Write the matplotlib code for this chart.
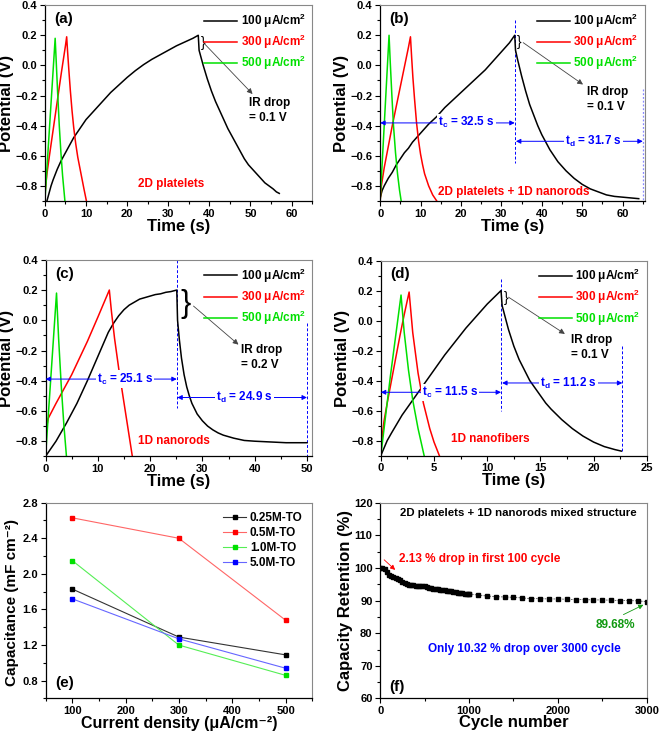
import matplotlib
matplotlib.use("Agg")
import matplotlib.pyplot as plt
from matplotlib.ticker import MultipleLocator

plt.rcParams['font.family'] = ['Liberation Sans', 'DejaVu Sans']
plt.rcParams['font.weight'] = 'bold'
plt.rcParams['axes.labelweight'] = 'bold'
plt.rcParams['mathtext.fontset'] = 'custom'
plt.rcParams['mathtext.rm'] = 'Liberation Sans:bold'
plt.rcParams['mathtext.it'] = 'Liberation Sans:bold'
plt.rcParams['mathtext.bf'] = 'Liberation Sans:bold'

BLACK, RED, GREEN, BLUE = 'black', '#ff0000', '#00e000', '#0000ff'
currents = ['100 μA/cm$^2$', '300 μA/cm$^2$', '500 μA/cm$^2$']

# ---- (a) 2D platelets ----
a_100_t = [0.5, 1, 1.5, 2, 3, 4, 5, 6, 7, 8, 9, 10, 12, 14, 16, 18, 20, 22, 24, 26, 28, 30,
           32, 34, 36, 37.3,
           37.5, 38.5, 39.5, 40.5, 41.5, 42.5, 43.5, 44.5, 45.5, 46.5, 47.5, 48.5, 49.5, 50.5,
           51.5, 52.5, 53.5, 54.5, 55.5, 56.3, 57]
a_100_v = [-0.9, -0.85, -0.8, -0.76, -0.69, -0.63, -0.58, -0.53, -0.48, -0.44, -0.4, -0.36,
           -0.3, -0.24, -0.18, -0.13, -0.08, -0.035, 0.005, 0.04, 0.07, 0.1, 0.13, 0.155, 0.18, 0.2,
           0.1, 0.0, -0.09, -0.17, -0.24, -0.3, -0.36, -0.42, -0.47, -0.52, -0.57, -0.62, -0.66,
           -0.69, -0.72, -0.75, -0.78, -0.8, -0.82, -0.84, -0.85]
a_300_t = [0, 0.5, 1, 2, 3, 4, 5, 5.3, 5.5, 5.8, 6.2, 6.6, 7.0, 7.5, 8.0, 8.5, 9.0, 9.5, 10.1]
a_300_v = [-0.86, -0.72, -0.62, -0.43, -0.24, -0.05, 0.13, 0.19, 0.1, -0.02, -0.17, -0.3,
           -0.41, -0.52, -0.61, -0.68, -0.75, -0.82, -0.9]
a_500_t = [0, 1.2, 2.5, 2.8, 3.1, 3.5, 3.9, 4.3, 4.87]
a_500_v = [-0.9, -0.38, 0.18, 0.0, -0.18, -0.4, -0.58, -0.73, -0.9]

# ---- (b) 2D platelets + 1D nanorods ----
b_100_t = [0, 0.5, 1, 2, 3, 4, 5, 6, 7, 8, 9, 10, 12, 14, 16, 18, 20, 22, 24, 26, 28, 30, 32, 33.3,
           33.5, 34, 35, 36, 37, 38, 39, 40, 41, 42, 43, 44, 45, 46, 48, 50, 52, 54, 56, 58, 60,
           62, 64]
b_100_v = [-0.88, -0.83, -0.8, -0.75, -0.71, -0.66, -0.62, -0.58, -0.55, -0.51, -0.48, -0.45,
           -0.39, -0.34, -0.28, -0.23, -0.18, -0.13, -0.08, -0.03, 0.03, 0.09, 0.15, 0.2,
           0.1, 0.04, -0.07, -0.17, -0.26, -0.33, -0.4, -0.46, -0.51, -0.56, -0.6, -0.64, -0.67,
           -0.7, -0.75, -0.79, -0.82, -0.84, -0.86, -0.87, -0.875, -0.88, -0.885]
b_300_t = [0, 0.3, 1, 2, 3, 4, 5, 6, 7, 7.5, 7.8, 8.1, 8.5, 9.0, 9.5, 10, 10.5, 11, 11.5, 12,
           12.5, 13, 14]
b_300_v = [-0.9, -0.8, -0.68, -0.54, -0.4, -0.27, -0.14, -0.01, 0.12, 0.19, 0.05, -0.08, -0.22,
           -0.38, -0.5, -0.59, -0.66, -0.72, -0.76, -0.8, -0.83, -0.86, -0.9]
b_500_t = [0, 1.1, 2.2, 2.5, 2.9, 3.3, 3.8, 4.3, 4.8, 5.2]
b_500_v = [-0.9, -0.35, 0.2, 0.02, -0.2, -0.4, -0.58, -0.72, -0.83, -0.9]

# ---- (c) 1D nanorods ----
c_100_t = [0, 1, 2, 3, 4, 5, 6, 7, 8, 9, 10, 11, 12, 13, 14, 15, 16, 17, 18, 19, 20, 21, 22,
           23, 24, 25.1,
           25.25, 25.6, 26, 26.5, 27, 27.5, 28, 29, 30, 31, 32, 33, 34, 36, 38, 40, 43, 46, 50]
c_100_v = [-0.9, -0.85, -0.8, -0.74, -0.68, -0.615, -0.55, -0.475, -0.4, -0.32, -0.24, -0.16,
           -0.08, -0.02, 0.03, 0.07, 0.1, 0.12, 0.14, 0.15, 0.16, 0.17, 0.175, 0.185, 0.19, 0.2,
           0.0, -0.13, -0.25, -0.36, -0.44, -0.5, -0.55, -0.62, -0.665, -0.7, -0.725, -0.745,
           -0.76, -0.78, -0.795, -0.8, -0.805, -0.81, -0.81]
c_300_t = [0, 0.5, 2, 5, 8, 10, 12.2, 12.6, 13.2, 14, 14.8, 15.7, 16.6]
c_300_v = [-0.75, -0.65, -0.55, -0.36, -0.14, 0.02, 0.2, 0.06, -0.12, -0.32, -0.5, -0.7, -0.9]
c_500_t = [0, 1.05, 2.1, 2.5, 3.0, 3.5, 4.0]
c_500_v = [-0.9, -0.36, 0.18, -0.12, -0.43, -0.69, -0.9]

# ---- (d) 1D nanofibers ----
d_100_t = [0, 0.3, 0.6, 1, 1.5, 2, 2.5, 3, 3.5, 4, 5, 6, 7, 8, 9, 10, 11.3,
           11.4, 11.7, 12, 12.5, 13, 13.5, 14, 14.5, 15, 15.5, 16, 17, 18, 19, 20, 21, 22, 22.6]
d_100_v = [-0.9, -0.85, -0.8, -0.75, -0.69, -0.63, -0.58, -0.53, -0.48, -0.43, -0.33, -0.23,
           -0.14, -0.05, 0.03, 0.11, 0.2,
           0.1, 0.02, -0.06, -0.17, -0.26, -0.33, -0.4, -0.45, -0.5, -0.55, -0.59, -0.66, -0.72,
           -0.77, -0.81, -0.84, -0.86, -0.87]
d_300_t = [0, 0.3, 0.6, 1, 1.4, 1.8, 2.2, 2.66, 3.0, 3.5, 4.0, 4.6, 5.0, 5.5]
d_300_v = [-0.85, -0.67, -0.55, -0.4, -0.25, -0.1, 0.04, 0.19, -0.08, -0.35, -0.55, -0.72,
           -0.81, -0.9]
d_500_t = [0, 0.9, 1.9, 2.2, 2.6, 3.0, 3.5, 4.07]
d_500_v = [-0.9, -0.37, 0.17, -0.08, -0.33, -0.53, -0.72, -0.9]

# ---- (e) capacitance vs current density ----
current_density = [100, 300, 500]
cap_025 = [1.83, 1.29, 1.09]
cap_05 = [2.63, 2.40, 1.48]
cap_10 = [2.15, 1.20, 0.86]
cap_50 = [1.72, 1.27, 0.94]

# ---- (f) cycling ----
cycles_dense = [0, 25, 50, 75, 100, 125, 150, 175, 200, 225, 250, 275, 300, 325, 350, 375, 400,
                425, 450, 475, 500, 525, 550, 575, 600, 625, 650, 675, 700, 725, 750, 775, 800,
                825, 850, 875, 900, 925, 950, 975, 1000]
retention_dense = [100.0, 100.1, 99.6, 98.9, 97.9, 97.6, 97.3, 97.0, 96.6, 96.2, 95.8, 95.4, 95.1,
                   94.9, 94.8, 94.7, 94.6, 94.5, 94.5, 94.4, 94.4, 94.2, 94.0, 93.8, 93.6, 93.5,
                   93.4, 93.3, 93.2, 93.1, 93.0, 92.9, 92.8, 92.7, 92.5, 92.4, 92.3, 92.2, 92.1,
                   92.05, 92.0]
cycles_sparse = [1000, 1100, 1200, 1300, 1400, 1500, 1600, 1700, 1800, 1900, 2000, 2100, 2200,
                 2300, 2400, 2500, 2600, 2700, 2800, 2900, 3000]
retention_sparse = [92.0, 91.7, 91.4, 91.2, 91.1, 91.0, 90.8, 90.6, 90.6, 90.5, 90.5, 90.4, 90.3,
                    90.3, 90.2, 90.2, 90.1, 90.0, 90.0, 89.9, 89.68]

TICK = 8
LAB = 12


def style_axes(ax):
    for s in ['left', 'bottom']:
        ax.spines[s].set_color('black')
        ax.spines[s].set_linewidth(0.9)
    for s in ['top', 'right']:
        ax.spines[s].set_color('#888888')
        ax.spines[s].set_linewidth(0.8)
    ax.tick_params(which='both', direction='out', top=False, right=False,
                   labelsize=TICK, width=0.8, pad=2)
    ax.tick_params(which='major', length=3.5)
    ax.tick_params(which='minor', length=2)
    for lbl in ax.get_xticklabels() + ax.get_yticklabels():
        lbl.set_fontweight('bold')


def gcd_panel(ax, curves, xmax, xmajor, label, sample, sample_xy):
    for (t, v), c, name in zip(curves, [BLACK, RED, GREEN], currents):
        ax.plot(t, v, color=c, lw=1.1, label=name, zorder=2)
    ax.set_xlim(0, xmax)
    ax.set_ylim(-0.9, 0.4)
    ax.xaxis.set_major_locator(MultipleLocator(xmajor))
    ax.xaxis.set_minor_locator(MultipleLocator(xmajor / 2))
    ax.yaxis.set_major_locator(MultipleLocator(0.2))
    ax.yaxis.set_minor_locator(MultipleLocator(0.1))
    ax.set_xlabel('Time (s)', fontsize=LAB, labelpad=0)
    ax.set_ylabel('Potential (V)', fontsize=LAB, labelpad=1)
    leg = ax.legend(loc='upper right', frameon=False, fontsize=8.5, handlelength=2.8,
                    handletextpad=0.3, labelspacing=0.25, borderaxespad=0.15)
    for txt, c in zip(leg.get_texts(), [BLACK, RED, GREEN]):
        txt.set_color(c)
    ax.text(0.035, 0.93, label, transform=ax.transAxes, fontsize=11, va='center')
    ax.text(sample_xy[0], sample_xy[1], sample, color=RED, fontsize=8.5,
            ha='center', va='center')
    style_axes(ax)


def ir_drop(ax, brace_xy, brace_size, arrow_from, arrow_to, text_xy, value):
    ax.text(brace_xy[0], brace_xy[1], '}', fontsize=brace_size, ha='center', va='center',
            fontweight='normal')
    ax.annotate('', xy=arrow_to, xytext=arrow_from,
                arrowprops=dict(arrowstyle='-|>', color='#444444', lw=0.6,
                                mutation_scale=8, shrinkA=0, shrinkB=0))
    ax.text(text_xy[0], text_xy[1], 'IR drop\n= %s V' % value, fontsize=8.5,
            ha='left', va='top', linespacing=1.3)


def time_arrow(ax, x0, x1, y, text, text_x):
    ax.annotate('', xy=(x1, y), xytext=(x0, y),
                arrowprops=dict(arrowstyle='<|-|>', color=BLUE, lw=0.7,
                                mutation_scale=7, shrinkA=0, shrinkB=0), zorder=3)
    ax.text(text_x, y, text, color=BLUE, fontsize=8.5, ha='center', va='center', zorder=5,
            bbox=dict(facecolor='white', edgecolor='none', pad=0.8))


fig = plt.figure(figsize=(6.6, 7.36), dpi=100)
ax_a = fig.add_axes([0.068, 0.727, 0.405, 0.266])
ax_b = fig.add_axes([0.576, 0.727, 0.401, 0.266])
ax_c = fig.add_axes([0.069, 0.380, 0.404, 0.267])
ax_d = fig.add_axes([0.577, 0.381, 0.403, 0.265])
ax_e = fig.add_axes([0.069, 0.051, 0.404, 0.266])
ax_f = fig.add_axes([0.576, 0.051, 0.404, 0.266])

# (a)
gcd_panel(ax_a, [(a_100_t, a_100_v), (a_300_t, a_300_v), (a_500_t, a_500_v)],
          65, 10, '(a)', '2D platelets', (30.8, -0.785))
ir_drop(ax_a, (38.4, 0.15), 10, (38.8, 0.144), (50.5, -0.19), (49.7, -0.21), '0.1')

# (b)
gcd_panel(ax_b, [(b_100_t, b_100_v), (b_300_t, b_300_v), (b_500_t, b_500_v)],
          65.5, 10, '(b)', '2D platelets + 1D nanorods', (33.1, -0.84))
ir_drop(ax_b, (34.5, 0.156), 10, (35.4, 0.151), (50.2, -0.127), (51.1, -0.14), '0.1')
ax_b.plot([33.4, 33.4], [0.30, -0.65], color=BLUE, lw=0.7, ls=(0, (3, 2)), zorder=1)
ax_b.plot([65.1, 65.1], [-0.16, -0.9], color='#8888ff', lw=0.9, ls=(0, (1.5, 1.5)), zorder=1)
time_arrow(ax_b, 0, 33.3, -0.382, 't$_c$ = 32.5 s', 21.3)
time_arrow(ax_b, 33.6, 65.0, -0.504, 't$_d$ = 31.7 s', 52.7)

# (c)
gcd_panel(ax_c, [(c_100_t, c_100_v), (c_300_t, c_300_v), (c_500_t, c_500_v)],
          51, 10, '(c)', '1D nanorods', (24.6, -0.80))
ir_drop(ax_c, (26.7, 0.105), 22, (28.3, 0.094), (36.9, -0.161), (37.3, -0.16), '0.2')
ax_c.plot([25.1, 25.1], [0.4, -0.58], color=BLUE, lw=0.7, ls=(0, (3, 2)), zorder=1)
ax_c.plot([50, 50], [-0.017, -0.9], color=BLUE, lw=0.7, ls=(0, (3, 2)), zorder=1)
time_arrow(ax_c, 0, 25.1, -0.389, 't$_c$ = 25.1 s', 15.2)
time_arrow(ax_c, 25.2, 50, -0.511, 't$_d$ = 24.9 s', 38.1)

# (d)
gcd_panel(ax_d, [(d_100_t, d_100_v), (d_300_t, d_300_v), (d_500_t, d_500_v)],
          25, 5, '(d)', '1D nanofibers', (10.3, -0.79))
ir_drop(ax_d, (11.75, 0.153), 10, (12.0, 0.156), (17.3, -0.089), (17.86, -0.09), '0.1')
ax_d.plot([11.3, 11.3], [0.278, -0.6], color=BLUE, lw=0.7, ls=(0, (3, 2)), zorder=1)
ax_d.plot([22.7, 22.7], [-0.167, -0.878], color=BLUE, lw=0.7, ls=(0, (3, 2)), zorder=1)
time_arrow(ax_d, 0, 11.3, -0.478, 't$_c$ = 11.5 s', 6.5)
time_arrow(ax_d, 11.4, 22.7, -0.416, 't$_d$ = 11.2 s', 17.6)

# (e)
e_series = [(cap_025, '#333333', 'black', '0.25M-TO'),
            (cap_05, '#ff6666', RED, '0.5M-TO'),
            (cap_10, '#55ee55', GREEN, '1.0M-TO'),
            (cap_50, '#6666ff', BLUE, '5.0M-TO')]
for vals, lc, mc, name in e_series:
    ax_e.plot(current_density, vals, color=lc, lw=0.8, marker='s', ms=3.2,
              mfc=mc, mec=mc, label=name)
ax_e.set_xlim(50, 550)
ax_e.set_ylim(0.6, 2.8)
ax_e.xaxis.set_major_locator(MultipleLocator(100))
ax_e.xaxis.set_minor_locator(MultipleLocator(50))
ax_e.yaxis.set_minor_locator(MultipleLocator(0.2))
ax_e.set_yticks([0.8, 1.2, 1.6, 2.0, 2.4, 2.8])
ax_e.set_xlabel('Current density (μA/cm⁻²)', fontsize=11.5, labelpad=0)
ax_e.set_ylabel('Capacitance (mF cm⁻²)', fontsize=11)
ax_e.yaxis.set_label_coords(-0.1, 0.49)
ax_e.legend(loc='upper right', frameon=False, fontsize=8.5, handlelength=2.0,
            handletextpad=0.3, labelspacing=0.25, borderaxespad=0.4)
ax_e.text(0.035, 0.08, '(e)', transform=ax_e.transAxes, fontsize=11, va='center')
style_axes(ax_e)

# (f)
ax_f.plot(cycles_dense, retention_dense, color='black', lw=1.4, marker='s', ms=3.5,
          mfc='black', mec='black')
ax_f.plot(cycles_sparse, retention_sparse, color='#555555', lw=0.6, ls=(0, (2, 1.5)),
          marker='s', ms=2.8, mfc='black', mec='black')
ax_f.set_xlim(0, 3000)
ax_f.set_ylim(60, 120)
ax_f.xaxis.set_major_locator(MultipleLocator(1000))
ax_f.xaxis.set_minor_locator(MultipleLocator(500))
ax_f.yaxis.set_major_locator(MultipleLocator(10))
ax_f.yaxis.set_minor_locator(MultipleLocator(5))
ax_f.set_xlabel('Cycle number', fontsize=LAB, labelpad=-1)
ax_f.set_ylabel('Capacity Retention (%)', fontsize=LAB, labelpad=1)
ax_f.text(1549, 116.7, '2D platelets + 1D nanorods mixed structure', fontsize=8.2,
          ha='center', va='center')
ax_f.text(1125, 102.8, '2.13 % drop in first 100 cycle', color=RED, fontsize=8.5,
          ha='center', va='center')
ax_f.annotate('', xy=(169, 99.4), xytext=(45, 102.5),
              arrowprops=dict(arrowstyle='-|>', color=RED, lw=0.6, mutation_scale=7,
                              shrinkA=0, shrinkB=0))
ax_f.text(2644, 82.6, '89.68%', color='#119911', fontsize=8.5, ha='center', va='center')
ax_f.annotate('', xy=(2962, 88.7), xytext=(2737, 85.7),
              arrowprops=dict(arrowstyle='-|>', color='#119911', lw=0.6, mutation_scale=7,
                              shrinkA=0, shrinkB=0))
ax_f.text(1624, 75.2, 'Only 10.32 % drop over 3000 cycle', color=BLUE, fontsize=8.5,
          ha='center', va='center')
ax_f.text(0.035, 0.06, '(f)', transform=ax_f.transAxes, fontsize=11, va='center')
style_axes(ax_f)

fig.savefig('out.png', dpi=100)
